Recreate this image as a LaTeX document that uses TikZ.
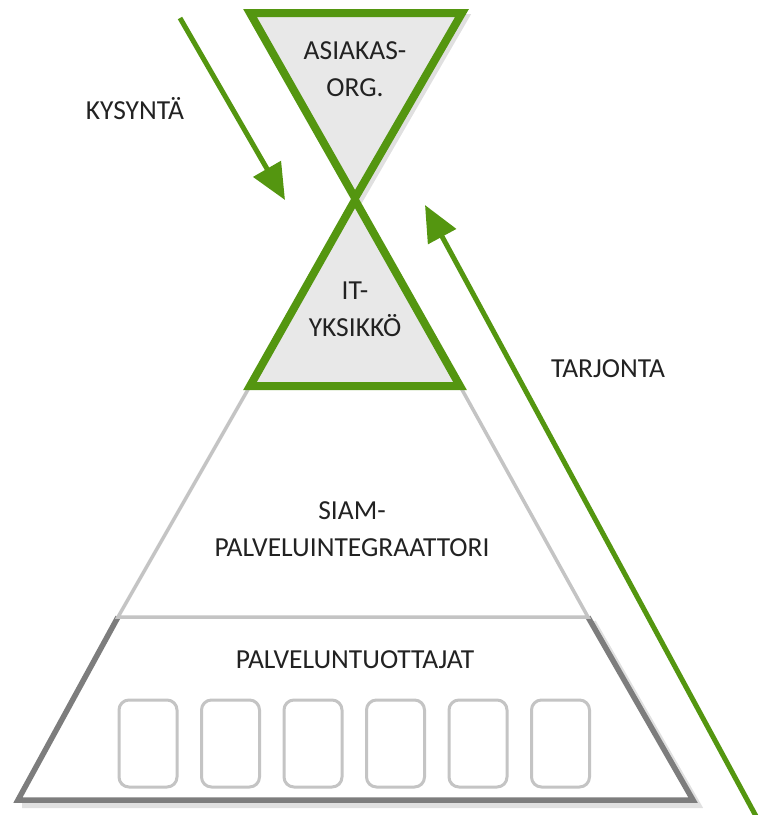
\documentclass[tikz,border=0pt]{standalone}
\usepackage{fontspec}
\setmainfont{Carlito}
\usetikzlibrary{arrows.meta}
\definecolor{leaf}{RGB}{84,150,16}
\definecolor{panel}{RGB}{232,232,232}
\definecolor{ink}{RGB}{34,34,34}
\definecolor{rim}{RGB}{125,125,125}
\definecolor{softrim}{RGB}{196,196,196}
\tikzset{
  label/.style={font=\fontsize{27.5}{37}\selectfont, text=ink, align=center, inner sep=0pt},
  greentri/.style={draw=leaf, line width=8pt, fill=panel, line join=miter},
  band/.style={draw=softrim, line width=3.5pt, fill=white, line join=miter},
  baseband/.style={draw=rim, line width=5.5pt, line join=miter},
  shade/.style={draw=black!40, line width=6pt, opacity=0.3, line join=miter},
  unit/.style={draw=softrim, line width=3pt, rounded corners=10pt},
  flow/.style={draw=leaf, line width=5pt, -{Triangle[length=36pt,width=31pt]}}
}
\begin{document}
\begin{tikzpicture}[x=1pt,y=-1pt]
\useasboundingbox (0,0) rectangle (763,815);

% soft shadows under the outlines
\draw[shade] (22,805) -- (698,805) -- (593,622);
\draw[shade] (254,17) -- (466,17) -- (359,202);

% service producers (bottom band)
\fill[white] (118,617) -- (18,800) -- (693,800) -- (588,617) -- cycle;
\draw[baseband] (118,617) -- (18,800) -- (693,800) -- (588,617);

% service integrator band
\draw[band] (250,386) -- (460,386) -- (588,617) -- (118,617) -- cycle;

% IT unit triangle
\draw[greentri] (355,200) -- (460,386) -- (250,386) -- cycle;

% customer organisation (inverted triangle)
\draw[greentri] (250,13) -- (462,13) -- (355,198) -- cycle;

% provider slots
\foreach \i in {0,...,5}
  \draw[unit] ({119+82.5*\i},700) rectangle ({177+82.5*\i},787);

% texts
\node[label] (asiakas) at (355,69) {ASIAKAS-\\ORG.};
\node[label] (it) at (355,309) {IT-\\YKSIKKÖ};
\node[label] (siam) at (352,529) {SIAM-\\PALVELUINTEGRAATTORI};
\node[label] (tuottajat) at (355,660) {PALVELUNTUOTTAJAT};
\node[label] (kysynta) at (135,109) {KYSYNTÄ};
\node[label] (tarjonta) at (608,369) {TARJONTA};

% demand and supply arrows
\coordinate (dstart) at (180,18);
\coordinate (dend) at (285,200);
\coordinate (sstart) at (757,818);
\coordinate (send) at (425,205);
\draw[flow] (dstart) -- (dend);
\draw[flow] (sstart) -- (send);
\end{tikzpicture}
\end{document}
